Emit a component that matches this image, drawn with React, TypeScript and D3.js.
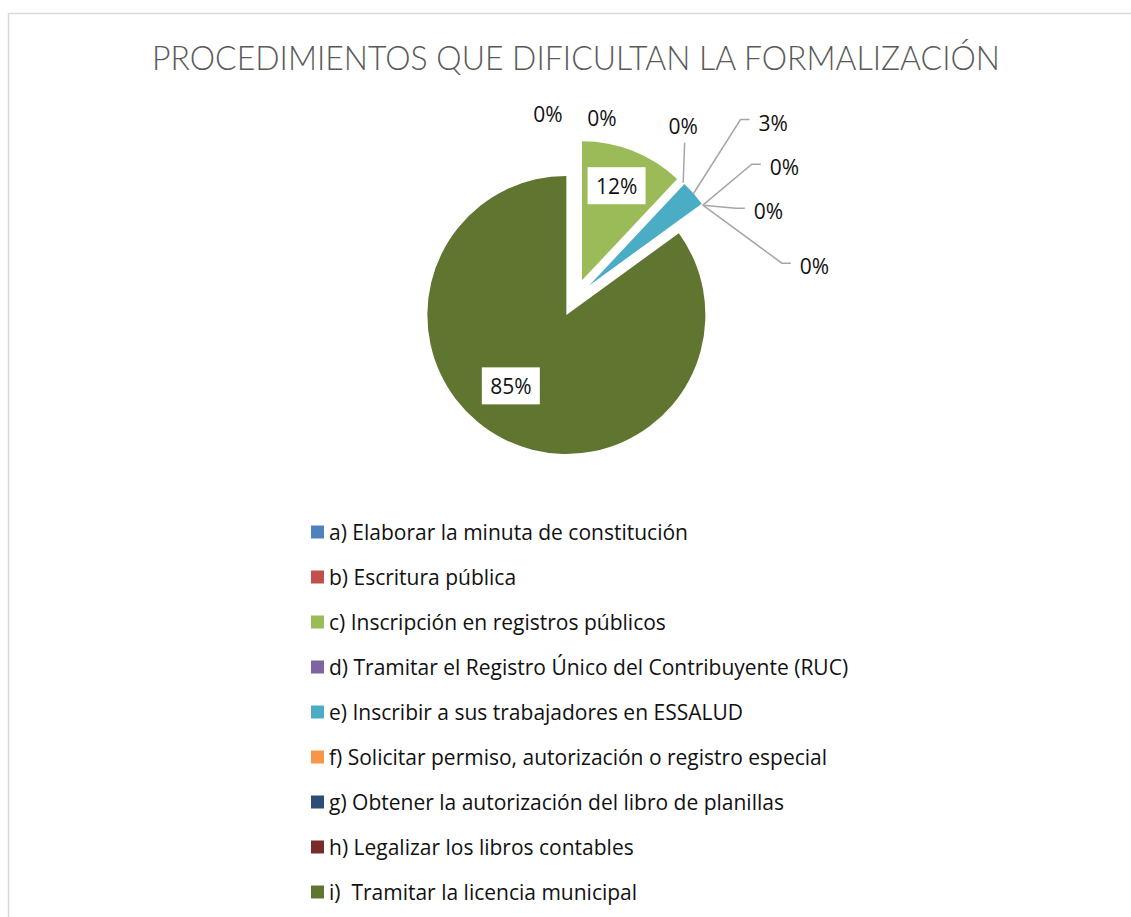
import React from "react";
import * as d3 from "d3";

// Datos del gráfico
const title = "PROCEDIMIENTOS QUE DIFICULTAN LA FORMALIZACIÓN";
const categories = [
  "a) Elaborar la minuta de constitución",
  "b) Escritura pública",
  "c) Inscripción en registros públicos",
  "d) Tramitar el Registro Único del Contribuyente (RUC)",
  "e) Inscribir a sus trabajadores en ESSALUD",
  "f) Solicitar permiso, autorización o registro especial",
  "g) Obtener la autorización del libro de planillas",
  "h) Legalizar los libros contables",
  "i)  Tramitar la licencia municipal",
];
const values = [0, 0, 12, 0, 3, 0, 0, 0, 85];
const colors = [
  "#4F81BD",
  "#C0504D",
  "#9BBB59",
  "#8064A2",
  "#4BACC6",
  "#F79646",
  "#2C4D75",
  "#772C2A",
  "#5F7530",
];

// Colocación de etiquetas (respecto al punto exterior del sector o al centroide)
type Placement = { dx: number; dy: number; mode: "none" | "vertical" | "elbow" | "inside" };
const labelPlacement: Placement[] = [
  { dx: -27, dy: -26, mode: "none" },
  { dx: 27, dy: -22, mode: "none" },
  { dx: 9, dy: -30, mode: "inside" },
  { dx: 0, dy: -57, mode: "vertical" },
  { dx: 65, dy: -71, mode: "elbow" },
  { dx: 67, dy: -38, mode: "elbow" },
  { dx: 51, dy: 6, mode: "elbow" },
  { dx: 97, dy: 61, mode: "elbow" },
  { dx: -24, dy: 9, mode: "inside" },
];

const W = 1131;
const H = 917;
const cx = 575;
const cy = 298;
const R = 139;
const explode = 19;
const font = "'Open Sans', Lato, sans-serif";

const App: React.FC = () => {
  const total = d3.sum(values);
  const arcs = d3
    .pie<number>()
    .sort(null)
    .value((d) => d)(values);
  const arc = d3.arc<d3.PieArcDatum<number>>().innerRadius(0).outerRadius(R);

  const legendY = d3
    .scalePoint<string>()
    .domain(categories)
    .range([532, 892]);

  return (
    <svg
      width={W}
      height={H}
      style={{ position: "absolute", left: 0, top: 0, background: "#fff" }}
      fontFamily={font}
    >
      {/* Marco */}
      <path d={`M8.5,${H} V13.5 H${W}`} fill="none" stroke="#D9D9D9" strokeWidth={1.5} />

      {/* Título */}
      <text
        x={576}
        y={70}
        textAnchor="middle"
        fontFamily="Lato, sans-serif"
        fontSize={34}
        fontWeight={300}
        fill="#595959"
        textLength={848}
        lengthAdjust="spacingAndGlyphs"
      >
        {title}
      </text>

      {/* Sectores */}
      {arcs.map((a, i) => {
        const mid = (a.startAngle + a.endAngle) / 2;
        const ox = Math.sin(mid) * explode;
        const oy = -Math.cos(mid) * explode;
        return (
          <path
            key={i}
            d={arc(a) ?? ""}
            transform={`translate(${cx + ox},${cy + oy})`}
            fill={colors[i]}
          />
        );
      })}

      {/* Etiquetas */}
      {arcs.map((a, i) => {
        const mid = (a.startAngle + a.endAngle) / 2;
        const ex = cx + Math.sin(mid) * explode;
        const ey = cy - Math.cos(mid) * explode;
        const px = ex + Math.sin(mid) * R;
        const py = ey - Math.cos(mid) * R;
        const p = labelPlacement[i];
        const txt = `${Math.round((a.data / total) * 100)}%`;
        if (p.mode === "inside") {
          const [c0, c1] = arc.centroid(a);
          const tx = ex + c0 + p.dx;
          const ty = ey + c1 + p.dy;
          return (
            <g key={i}>
              <rect x={tx - 29} y={ty - 18.5} width={58} height={37} fill="#fff" />
              <text x={tx} y={ty} textAnchor="middle" dominantBaseline="central" fontSize={21} fill="#111">
                {txt}
              </text>
            </g>
          );
        }
        const tx = px + p.dx;
        const ty = py + p.dy;
        let line = "";
        if (p.mode === "vertical") line = `M${px},${py} L${px + 1.5},${ty + 17}`;
        if (p.mode === "elbow")
          line = `M${px},${py} L${tx - 18},${ty - 3} L${tx - 9},${ty - 3}`;
        return (
          <g key={i}>
            {line && <path d={line} fill="none" stroke="#A6A6A6" strokeWidth={1.5} />}
            <text
              x={tx}
              y={ty}
              textAnchor={p.mode === "elbow" ? "start" : "middle"}
              dominantBaseline="central"
              fontSize={21}
              fill="#111"
            >
              {txt}
            </text>
          </g>
        );
      })}

      {/* Leyenda */}
      {categories.map((c, i) => {
        const y = legendY(c) ?? 0;
        return (
          <g key={i}>
            <rect x={311} y={y - 6.5} width={13} height={13} fill={colors[i]} />
            <text
              x={329}
              y={y}
              dominantBaseline="central"
              fontSize={21}
              fill="#111"
              style={{ whiteSpace: "pre" }}
            >
              {c}
            </text>
          </g>
        );
      })}
    </svg>
  );
};

export default App;
